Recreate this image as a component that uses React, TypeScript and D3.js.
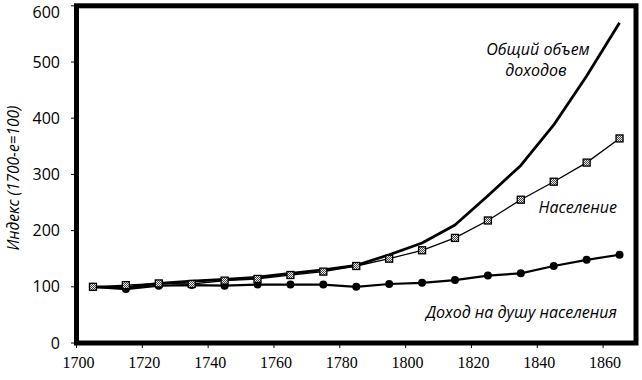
import React from "react";
import * as d3 from "d3";

const years = [1705, 1715, 1725, 1735, 1745, 1755, 1765, 1775, 1785, 1795, 1805, 1815, 1825, 1835, 1845, 1855, 1865];
const totalIncome = [100, 99, 106, 110, 113, 117, 124, 130, 138, 157, 178, 210, 262, 316, 388, 475, 570];
const population = [100, 103, 106, 105, 111, 114, 121, 127, 137, 150, 165, 187, 218, 255, 287, 321, 364];
const perCapita = [100, 96, 102, 103, 102, 104, 104, 104, 100, 105, 107, 112, 120, 124, 137, 148, 157];
const xTicks = [1700, 1720, 1740, 1760, 1780, 1800, 1820, 1840, 1860];
const yTicks = [0, 100, 200, 300, 400, 500, 600];

const W = 642;
const H = 380;

export default function App() {
  const x = d3.scaleLinear().domain([1700, 1870]).range([76.5, 636]);
  const y = d3.scaleLinear().domain([0, 600]).range([343, 5.8]);
  const line = (vals: number[]) =>
    d3.line<number>().x((_, i) => x(years[i])).y((v) => y(v))(vals) || "";

  const labelFont = "'Open Sans', 'Noto Sans', sans-serif";
  const serif = "'Liberation Serif', 'DejaVu Serif', serif";

  return (
    <svg width={W} height={H} style={{ position: "absolute", left: 0, top: 0, background: "#fff" }}>
      <defs>
        <pattern id="chk" width="2" height="2" patternUnits="userSpaceOnUse">
          <rect width="2" height="2" fill="#eee" />
          <rect width="1" height="1" fill="#444" />
          <rect x="1" y="1" width="1" height="1" fill="#444" />
        </pattern>
      </defs>
      <rect x={0} y={0} width={W} height={H} fill="#fff" />

      {/* Y ticks and labels */}
      {yTicks.map((t) => (
        <g key={"y" + t}>
          <line x1={71} x2={76.5} y1={y(t)} y2={y(t)} stroke="#000" strokeWidth={1} />
          <text
            x={60}
            y={Math.max(y(t), 12)}
            dy="0.35em"
            textAnchor="end"
            fontFamily={labelFont}
            fontSize={16}
            fill="#000"
          >
            {t}
          </text>
        </g>
      ))}

      {/* X ticks and labels */}
      {xTicks.map((t) => (
        <g key={"x" + t}>
          <line x1={x(t)} x2={x(t)} y1={343} y2={348} stroke="#000" strokeWidth={1} />
          <text x={x(t) + 2} y={368} textAnchor="middle" fontFamily={serif} fontSize={16} fill="#000">
            {t}
          </text>
        </g>
      ))}

      {/* Series */}
      <path d={line(totalIncome)} fill="none" stroke="#000" strokeWidth={2.8} strokeLinejoin="round" />
      <path d={line(population)} fill="none" stroke="#000" strokeWidth={1.3} />
      <path d={line(perCapita)} fill="none" stroke="#000" strokeWidth={2.2} />
      {perCapita.map((v, i) => (
        <circle key={"c" + i} cx={x(years[i])} cy={y(v)} r={4} fill="#000" />
      ))}
      {population.map((v, i) => (
        <rect
          key={"s" + i}
          x={x(years[i]) - 3.5}
          y={y(v) - 3.5}
          width={7}
          height={7}
          fill="url(#chk)"
          stroke="#000"
          strokeWidth={1.3}
        />
      ))}

      {/* Frame */}
      <rect x={76.5} y={5.8} width={636 - 76.5} height={343 - 5.8} fill="none" stroke="#000" strokeWidth={5} />

      {/* Annotations */}
      <text x={538} y={55} textAnchor="middle" fontFamily={labelFont} fontStyle="italic" fontSize={16} fill="#000">
        Общий объем
      </text>
      <text x={536} y={76} textAnchor="middle" fontFamily={labelFont} fontStyle="italic" fontSize={16} fill="#000">
        доходов
      </text>
      <text x={617} y={213} textAnchor="end" fontFamily={labelFont} fontStyle="italic" fontSize={16} fill="#000">
        Население
      </text>
      <text x={617} y={318} textAnchor="end" fontFamily={labelFont} fontStyle="italic" fontSize={16} fill="#000">
        Доход на душу населения
      </text>

      {/* Y axis title */}
      <text
        transform={`translate(19, 178) rotate(-90)`}
        textAnchor="middle"
        fontFamily={labelFont}
        fontStyle="italic"
        fontSize={15.5}
        fill="#000"
      >
        Индекс (1700-е=100)
      </text>
    </svg>
  );
}
